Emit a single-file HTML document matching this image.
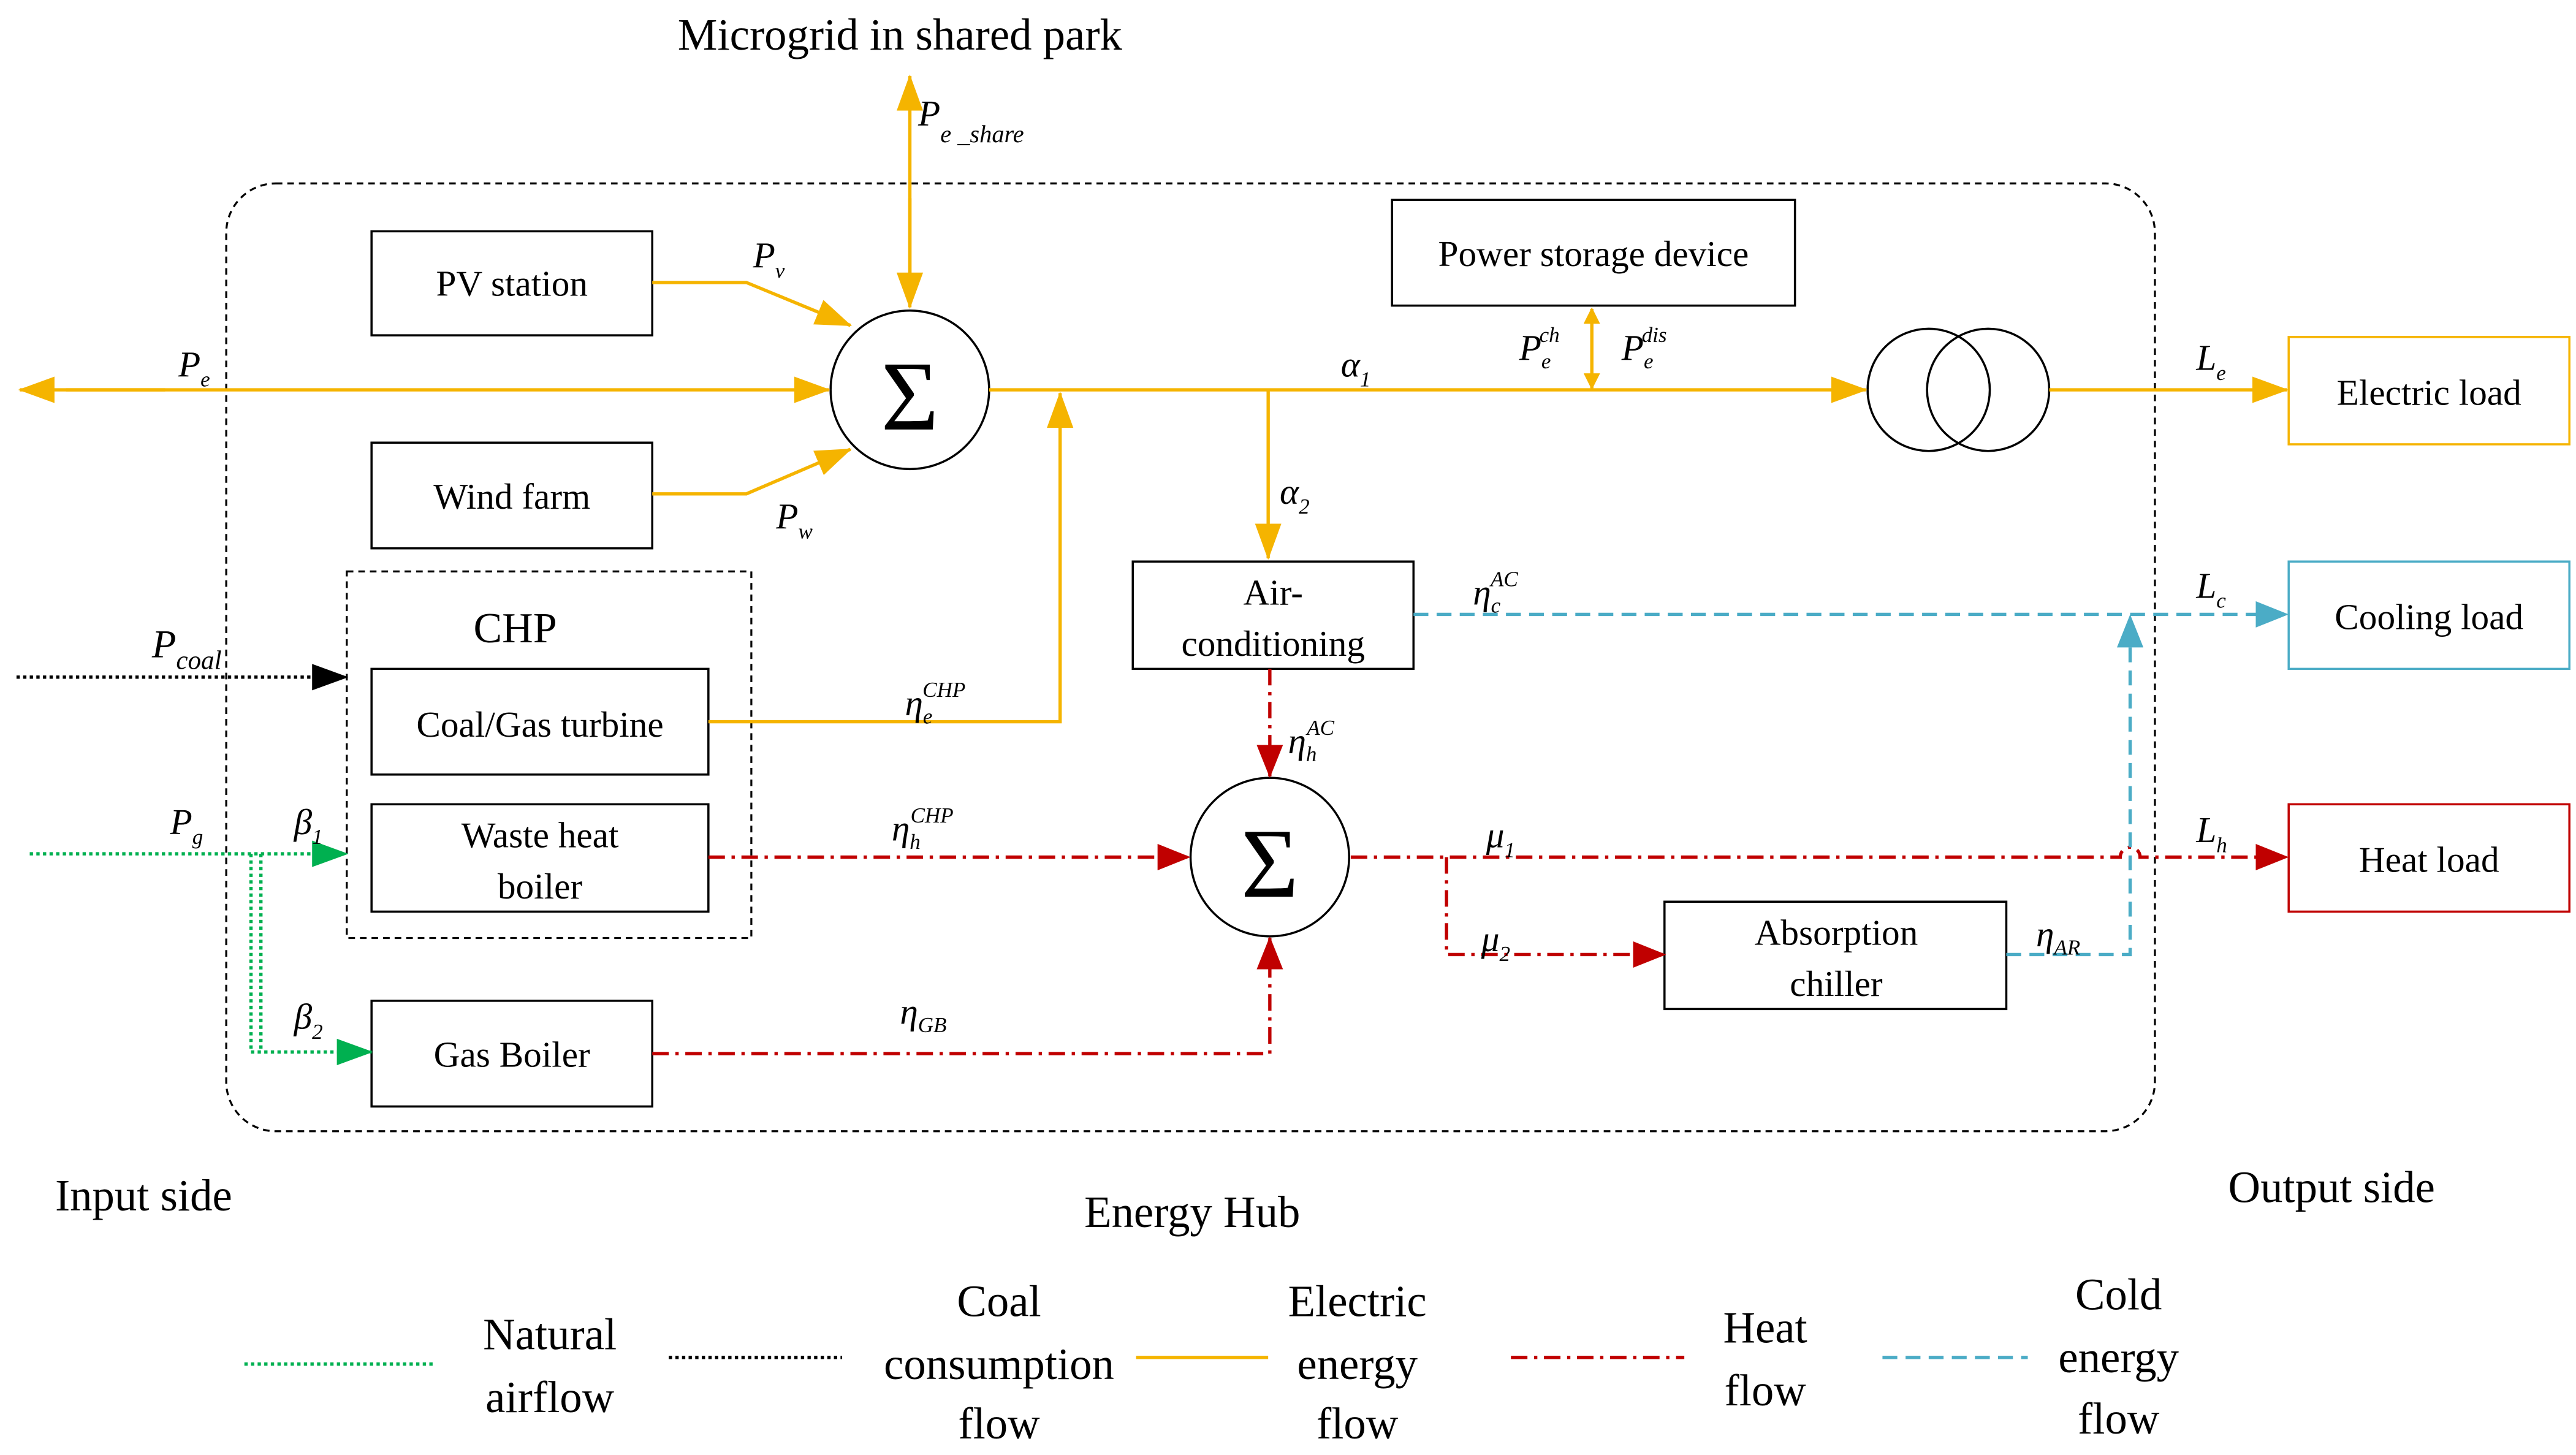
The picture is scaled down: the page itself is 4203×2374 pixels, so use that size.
<!DOCTYPE html>
<html><head><meta charset="utf-8"><style>html,body{margin:0;padding:0;background:#fff}svg{display:block}text{font-family:"Liberation Serif",serif;fill:#000}</style></head><body>
<svg width="4203" height="2374" viewBox="0 0 1560 881" xmlns="http://www.w3.org/2000/svg">
<defs>
<marker id="ao" markerWidth="10" markerHeight="10" refX="9" refY="5" orient="auto" markerUnits="userSpaceOnUse" viewBox="0 0 10 10"><path d="M0,0 L10,5 L0,10z" fill="#F5B400"/></marker>
<marker id="ao2" markerWidth="22" markerHeight="16" refX="21" refY="8" orient="auto" markerUnits="userSpaceOnUse"><path d="M0,0 L22,8 L0,16z" fill="#F5B400"/></marker>
<marker id="ar" markerWidth="20" markerHeight="16" refX="19" refY="8" orient="auto" markerUnits="userSpaceOnUse"><path d="M0,0 L20,8 L0,16z" fill="#C00000"/></marker>
<marker id="ab" markerWidth="20" markerHeight="16" refX="19" refY="8" orient="auto" markerUnits="userSpaceOnUse"><path d="M0,0 L20,8 L0,16z" fill="#4BACC6"/></marker>
<marker id="ag" markerWidth="22" markerHeight="16" refX="21" refY="8" orient="auto" markerUnits="userSpaceOnUse"><path d="M0,0 L22,8 L0,16z" fill="#00B050"/></marker>
<marker id="ak" markerWidth="22" markerHeight="16" refX="21" refY="8" orient="auto" markerUnits="userSpaceOnUse"><path d="M0,0 L22,8 L0,16z" fill="#000"/></marker>
</defs>
<g fill="none" stroke-width="2">
<rect x="137" y="111" width="1168" height="574" rx="30" stroke="#000" stroke-width="1.2" stroke-dasharray="4,3"/>
<rect x="210" y="346" width="245" height="222" stroke="#000" stroke-width="1.2" stroke-dasharray="4,3"/>
<g stroke="#000" stroke-width="1.3">
<rect x="225" y="140" width="170" height="63"/><rect x="225" y="268" width="170" height="64"/>
<rect x="843" y="121" width="244" height="64"/><rect x="686" y="340" width="170" height="65"/>
<rect x="225" y="405" width="204" height="64"/><rect x="225" y="487" width="204" height="65"/>
<rect x="225" y="606" width="170" height="64"/><rect x="1008" y="546" width="207" height="65"/>
<circle cx="551" cy="236" r="48"/><circle cx="769" cy="519" r="48"/>
<circle cx="1168" cy="236" r="37"/><circle cx="1204" cy="236" r="37"/>
</g>
<rect x="1386" y="204" width="170" height="65" stroke="#F5B400" stroke-width="1.3"/>
<rect x="1386" y="340" width="170" height="65" stroke="#4BACC6" stroke-width="1.3"/>
<rect x="1386" y="487" width="170" height="65" stroke="#C00000" stroke-width="1.3"/>
<g stroke="#F5B400">
<line x1="551" y1="170" x2="551" y2="46" marker-end="url(#ao2)"/>
<line x1="551" y1="120" x2="551" y2="186" marker-end="url(#ao2)"/>
<line x1="100" y1="236" x2="12" y2="236" marker-end="url(#ao2)"/>
<line x1="40" y1="236" x2="502" y2="236" marker-end="url(#ao2)"/>
<polyline points="395,171 452,171 515,197" marker-end="url(#ao2)"/>
<polyline points="395,299 452,299 515,272" marker-end="url(#ao2)"/>
<line x1="599" y1="236" x2="1130" y2="236" marker-end="url(#ao2)"/>
<polyline points="429,437 642,437 642,238" marker-end="url(#ao2)"/>
<line x1="768" y1="236" x2="768" y2="338" marker-end="url(#ao2)"/>
<line x1="964" y1="210" x2="964" y2="187" marker-end="url(#ao)"/>
<line x1="964" y1="210" x2="964" y2="235" marker-end="url(#ao)"/>
<line x1="1241" y1="236" x2="1385" y2="236" marker-end="url(#ao2)"/>
<line x1="688" y1="822" x2="768" y2="822"/>
</g>
<g stroke="#C00000" stroke-dasharray="10,4,2,4">
<line x1="429" y1="519" x2="720" y2="519" marker-end="url(#ar)"/>
<polyline points="395,638 769,638 769,568" marker-end="url(#ar)"/>
<line x1="769" y1="405" x2="769" y2="470" marker-end="url(#ar)"/>
<path d="M818,519 L1284,519 A6,6 0 0 1 1296,519 L1385,519" marker-end="url(#ar)"/>
<polyline points="876,519 876,578 1008,578" marker-end="url(#ar)"/>
<line x1="915" y1="822" x2="1020" y2="822"/>
</g>
<g stroke="#4BACC6" stroke-dasharray="9,5">
<line x1="856" y1="372" x2="1385" y2="372" marker-end="url(#ab)"/>
<polyline points="1215,578 1290,578 1290,373" marker-end="url(#ab)"/>
<line x1="1140" y1="822" x2="1228" y2="822"/>
</g>
<g stroke="#00B050" stroke-dasharray="2,2">
<line x1="18" y1="517" x2="210" y2="517" marker-end="url(#ag)"/>
<polyline points="152,517 152,637 225,637" marker-end="url(#ag)"/>
<line x1="158" y1="517" x2="158" y2="637"/>
<line x1="148" y1="826" x2="263" y2="826"/>
</g>
<g stroke="#000" stroke-dasharray="2,2">
<line x1="10" y1="410" x2="210" y2="410" marker-end="url(#ak)"/>
<line x1="405" y1="822" x2="510" y2="822"/>
</g>
</g>
<g font-size="22" text-anchor="middle">
<text x="310" y="179">PV station</text><text x="310" y="308">Wind farm</text>
<text x="965" y="161">Power storage device</text>
<text x="771" y="366">Air-</text><text x="771" y="397">conditioning</text>
<text x="327" y="446">Coal/Gas turbine</text>
<text x="327" y="513">Waste heat</text><text x="327" y="544">boiler</text>
<text x="310" y="646">Gas Boiler</text>
<text x="1112" y="572">Absorption</text><text x="1112" y="603">chiller</text>
<text x="1471" y="245">Electric load</text><text x="1471" y="381">Cooling load</text><text x="1471" y="528">Heat load</text>
<text x="312" y="389" font-size="26">CHP</text>
<text x="551" y="260" font-size="60">Σ</text><text x="769" y="543" font-size="60">Σ</text>
</g>
<g font-size="27" text-anchor="middle">
<text x="545" y="30">Microgrid in shared park</text>
<text x="87" y="733">Input side</text><text x="722" y="743">Energy Hub</text><text x="1412" y="728">Output side</text>
<text x="333" y="817">Natural</text><text x="333" y="855">airflow</text>
<text x="605" y="797">Coal</text><text x="605" y="835">consumption</text><text x="605" y="871">flow</text>
<text x="822" y="797">Electric</text><text x="822" y="835">energy</text><text x="822" y="871">flow</text>
<text x="1069" y="813">Heat</text><text x="1069" y="851">flow</text>
<text x="1283" y="793">Cold</text><text x="1283" y="831">energy</text><text x="1283" y="868">flow</text>
</g>
<g font-style="italic" font-size="22">
<text x="556" y="76">P<tspan font-size="15" dy="10">e _share</tspan></text>
<text x="108" y="228">P<tspan font-size="13" dy="6">e</tspan></text>
<text x="456" y="162">P<tspan font-size="13" dy="6">v</tspan></text>
<text x="470" y="320">P<tspan font-size="13" dy="6">w</tspan></text>
<text x="812" y="228">α<tspan font-size="13" dy="6">1</tspan></text>
<text x="775" y="305">α<tspan font-size="13" dy="6">2</tspan></text>
<text x="920" y="218">P<tspan font-size="13" dy="5">e</tspan><tspan font-size="13" dy="-16" dx="-7">ch</tspan></text>
<text x="982" y="218">P<tspan font-size="13" dy="5">e</tspan><tspan font-size="13" dy="-16" dx="-7">dis</tspan></text>
<text x="1330" y="224">L<tspan font-size="13" dy="6">e</tspan></text>
<text x="1330" y="362">L<tspan font-size="13" dy="6">c</tspan></text>
<text x="1330" y="510">L<tspan font-size="13" dy="6">h</tspan></text>
<text x="892" y="366">η<tspan font-size="13" dy="5">c</tspan><tspan font-size="13" dy="-16" dx="-6">AC</tspan></text>
<text x="780" y="456">η<tspan font-size="13" dy="5">h</tspan><tspan font-size="13" dy="-16" dx="-6">AC</tspan></text>
<text x="548" y="433">η<tspan font-size="13" dy="5">e</tspan><tspan font-size="13" dy="-16" dx="-6">CHP</tspan></text>
<text x="540" y="509">η<tspan font-size="13" dy="5">h</tspan><tspan font-size="13" dy="-16" dx="-6">CHP</tspan></text>
<text x="545" y="620">η<tspan font-size="13" dy="5">GB</tspan></text>
<text x="1233" y="573">η<tspan font-size="13" dy="5">AR</tspan></text>
<text x="900" y="513">μ<tspan font-size="13" dy="6">1</tspan></text>
<text x="897" y="576">μ<tspan font-size="13" dy="6">2</tspan></text>
<text x="92" y="398" font-size="24">P<tspan font-size="16" dy="7">coal</tspan></text>
<text x="103" y="505">P<tspan font-size="13" dy="6">g</tspan></text>
<text x="178" y="505">β<tspan font-size="13" dy="6">1</tspan></text>
<text x="178" y="623">β<tspan font-size="13" dy="6">2</tspan></text>
</g>
</svg>
</body></html>
